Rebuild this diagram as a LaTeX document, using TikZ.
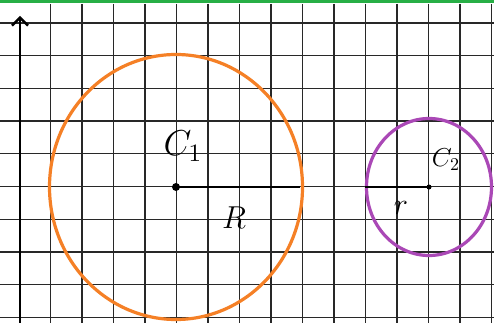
\documentclass[tikz,border=0pt]{standalone}
\usetikzlibrary{arrows.meta}
\definecolor{gridc}{RGB}{40,40,40}
\definecolor{orng}{RGB}{245,128,38}
\definecolor{purp}{RGB}{170,72,182}
\definecolor{grn}{RGB}{40,175,70}
\begin{document}
\begin{tikzpicture}[x=1pt,y=-1pt,
  gridline/.style={gridc,line width=1.2pt},
  radius line/.style={black,line width=2pt},
  centerdot/.style={circle,fill=black,inner sep=0pt,minimum size=8pt},
  lbl/.style={inner sep=1pt,font=\Large}]
\useasboundingbox[fill=white] (0,0) rectangle (494,323);
% top green line
\draw[grn,line width=3pt] (0,2) -- (494,2);
% grid
\foreach \k in {1,...,15} {\draw[gridline] ({19+31.5*\k},4) -- ({19+31.5*\k},323);}
\foreach \k in {0,...,9} {\draw[gridline] (0,{23+32.7*\k}) -- (494,{23+32.7*\k});}
% axis
\coordinate (axb) at (20,323);
\coordinate (axt) at (20,16);
\draw[black,line width=2pt,-{Straight Barb[length=8pt,width=16pt,line width=2.4pt]}] (axb) -- (axt);
% circles
\node[centerdot] (c1) at (176,187) {};
\node[centerdot,minimum size=5pt] (c2) at (429,187) {};
\draw[orng,line width=3.2pt] (c1) ellipse [x radius=126.5,y radius=132.5];
\draw[purp,line width=3.2pt] (c2) ellipse [x radius=62.5,y radius=68.5];
\coordinate (c1e) at (300,187);
\coordinate (c2w) at (365,187);
\draw[radius line] (c1.center) -- (c1e);
\draw[radius line] (c2w) -- (c2.center);
% labels
\node[lbl,scale=2.5] (lc1) at (183,146) {$C_1$};
\node[lbl,scale=1.8] (lc2) at (446,160) {$C_2$};
\node[lbl,scale=2.2] (lR) at (234,218) {$R$};
\node[lbl,scale=2.1] (lr) at (401,208) {$r$};
\end{tikzpicture}
\end{document}
